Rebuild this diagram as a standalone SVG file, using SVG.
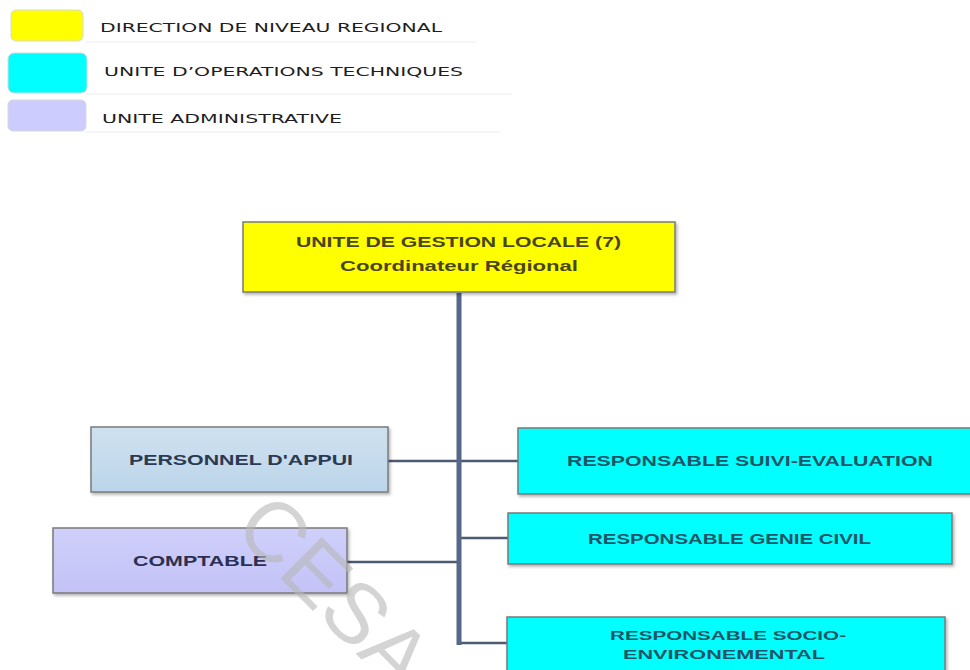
<svg xmlns="http://www.w3.org/2000/svg" width="970" height="670" viewBox="0 0 970 670">
  <defs>
    <filter id="shadow" x="-5%" y="-10%" width="115%" height="130%">
      <feDropShadow dx="1.5" dy="2" stdDeviation="1.5" flood-color="#000" flood-opacity="0.3"/>
    </filter>
    <linearGradient id="gradAppui" x1="0" y1="0" x2="0" y2="1">
      <stop offset="0" stop-color="#cfe1f0"/>
      <stop offset="1" stop-color="#bcd5ea"/>
    </linearGradient>
    <linearGradient id="gradCompta" x1="0" y1="0" x2="0" y2="1">
      <stop offset="0" stop-color="#d0d0fb"/>
      <stop offset="1" stop-color="#c2c2f7"/>
    </linearGradient>
  </defs>
  <style>
    .legend-swatch { stroke: #d8d8d8; stroke-width: 1; }
    .legend-text { font-family: "DejaVu Sans", "Liberation Sans", sans-serif; font-size: 13px; fill: #1e1e1e; }
    .legend-rule { stroke: #ececec; stroke-width: 1; }
    .box { stroke: #7a7a7a; stroke-width: 1.5; filter: url(#shadow); }
    .label { font-family: "Liberation Sans", Arial, sans-serif; font-weight: bold; text-anchor: start; }
    .trunk { stroke: #56678a; stroke-width: 5; fill: none; }
    .branch { stroke: #4d5a73; stroke-width: 2.5; fill: none; }
    .mark { font-family: "Liberation Sans", Arial, sans-serif; font-size: 85px; fill: #b8b8b8; opacity: 0.6; }
  </style>

  <rect width="970" height="670" fill="#ffffff"/>

  <!-- legend -->
  <g id="legend">
    <line class="legend-rule" x1="86" y1="42" x2="476" y2="42"/>
    <line class="legend-rule" x1="86" y1="94" x2="512" y2="94"/>
    <line class="legend-rule" x1="86" y1="132" x2="500" y2="132"/>
    <rect class="legend-swatch" x="11" y="10" width="72" height="31" rx="5" fill="#ffff00"/>
    <rect class="legend-swatch" x="8" y="53" width="79" height="40" rx="6" fill="#00ffff"/>
    <rect class="legend-swatch" x="8" y="100" width="78" height="31" rx="5" fill="#ccccff"/>
    <text class="legend-text" x="100" y="32" textLength="342" lengthAdjust="spacingAndGlyphs">DIRECTION DE NIVEAU  REGIONAL</text>
    <text class="legend-text" x="104" y="76" textLength="359" lengthAdjust="spacingAndGlyphs">UNITE D’OPERATIONS TECHNIQUES</text>
    <text class="legend-text" x="102" y="123" textLength="240" lengthAdjust="spacingAndGlyphs">UNITE ADMINISTRATIVE</text>
  </g>

  <!-- connectors -->
  <g id="connectors">
    <line class="branch" x1="388" y1="461" x2="518" y2="461"/>
    <line class="branch" x1="347" y1="562" x2="459" y2="562"/>
    <line class="branch" x1="459" y1="538" x2="508" y2="538"/>
    <path class="branch" d="M459 643 H507"/>
    <line class="trunk" x1="459" y1="293" x2="459" y2="645"/>
  </g>

  <!-- nodes -->
  <g id="ugl">
    <rect class="box" x="243" y="222" width="432" height="70" fill="#ffff00"/>
    <text class="label" x="296" y="247" font-size="14" fill="#4a4420" textLength="325" lengthAdjust="spacingAndGlyphs">UNITE DE GESTION LOCALE (7)</text>
    <text class="label" x="340" y="271" font-size="14" fill="#4a4420" textLength="238" lengthAdjust="spacingAndGlyphs">Coordinateur Régional</text>
  </g>

  <g id="personnel-appui">
    <rect class="box" x="91" y="427" width="297" height="65" fill="url(#gradAppui)"/>
    <text class="label" x="129" y="465" font-size="14" fill="#2b3a52" textLength="224" lengthAdjust="spacingAndGlyphs">PERSONNEL D'APPUI</text>
  </g>

  <g id="comptable">
    <rect class="box" x="53" y="528" width="294" height="65" fill="url(#gradCompta)"/>
    <text class="label" x="133" y="566" font-size="14" fill="#2d2f52" textLength="134" lengthAdjust="spacingAndGlyphs">COMPTABLE</text>
  </g>

  <g id="suivi-evaluation">
    <rect class="box" x="518" y="428" width="460" height="66" fill="#00ffff"/>
    <text class="label" x="567" y="466" font-size="15" fill="#1f5566" textLength="366" lengthAdjust="spacingAndGlyphs">RESPONSABLE SUIVI-EVALUATION</text>
  </g>

  <g id="genie-civil">
    <rect class="box" x="508" y="513" width="444" height="51" fill="#00ffff"/>
    <text class="label" x="588" y="544" font-size="14" fill="#1f5566" textLength="283" lengthAdjust="spacingAndGlyphs">RESPONSABLE GENIE CIVIL</text>
  </g>

  <g id="socio-environnemental">
    <rect class="box" x="507" y="617" width="438" height="70" fill="#00ffff"/>
    <text class="label" x="610" y="640" font-size="13" fill="#1f5566" textLength="236" lengthAdjust="spacingAndGlyphs">RESPONSABLE SOCIO-</text>
    <text class="label" x="623" y="659" font-size="13" fill="#1f5566" textLength="202" lengthAdjust="spacingAndGlyphs">ENVIRONEMENTAL</text>
  </g>

  <!-- diagonal watermark -->
  <text class="mark" x="232" y="530" transform="rotate(45 232 530)">CESA</text>
</svg>
